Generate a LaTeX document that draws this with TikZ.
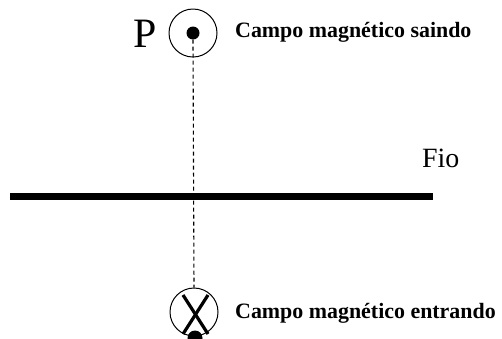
\documentclass[tikz,border=0pt]{standalone}
\usepackage{fontspec}
\setmainfont{Liberation Serif}
\begin{document}
\begin{tikzpicture}[x=1bp,y=-1bp,
  ring/.style={circle,draw,line width=1bp,minimum size=48bp,inner sep=0pt},
  lbl/.style={font=\fontsize{22}{24}\selectfont\bfseries,anchor=base west,inner sep=0pt},
  dashline/.style={line width=1.1bp,dash pattern=on 4bp off 3bp}]
\useasboundingbox (0,0) rectangle (502,338);
\begin{scope}
\clip (0,0) rectangle (502,338);
% top circle with dot
\node[ring] (top) at (193,33) {};
\node[circle,fill,minimum size=13bp,inner sep=0pt] (dot) at (193,33) {};
\node[font=\fontsize{42}{44}\selectfont,anchor=base east,inner sep=0pt] (P) at (157,47) {P};
\node[lbl] (l1) at (235,37) {Campo magnético saindo};
% wire
\coordinate (w1) at (10,196);
\coordinate (w2) at (433,196);
\draw[line width=7bp] (w1) -- (w2);
\node[font=\fontsize{28}{30}\selectfont,anchor=base west,inner sep=0pt] (fio) at (422,167) {Fio};
% bottom circle with X
\node[ring] (bot) at (194,312) {};
\coordinate (xa) at (183,295);
\coordinate (xb) at (208,334);
\coordinate (xc) at (208,295);
\coordinate (xd) at (183,334);
\draw[line width=3.2bp] (xa) -- (xb);
\draw[line width=3.2bp] (xc) -- (xd);
\node[circle,fill,minimum size=15bp,inner sep=0pt] (bdot) at (195,338) {};
\node[lbl] (l2) at (235,318) {Campo magnético entrando};
% dashed line
\draw[dashline] (dot.south) -- (bot.north);
\end{scope}
\end{tikzpicture}
\end{document}
